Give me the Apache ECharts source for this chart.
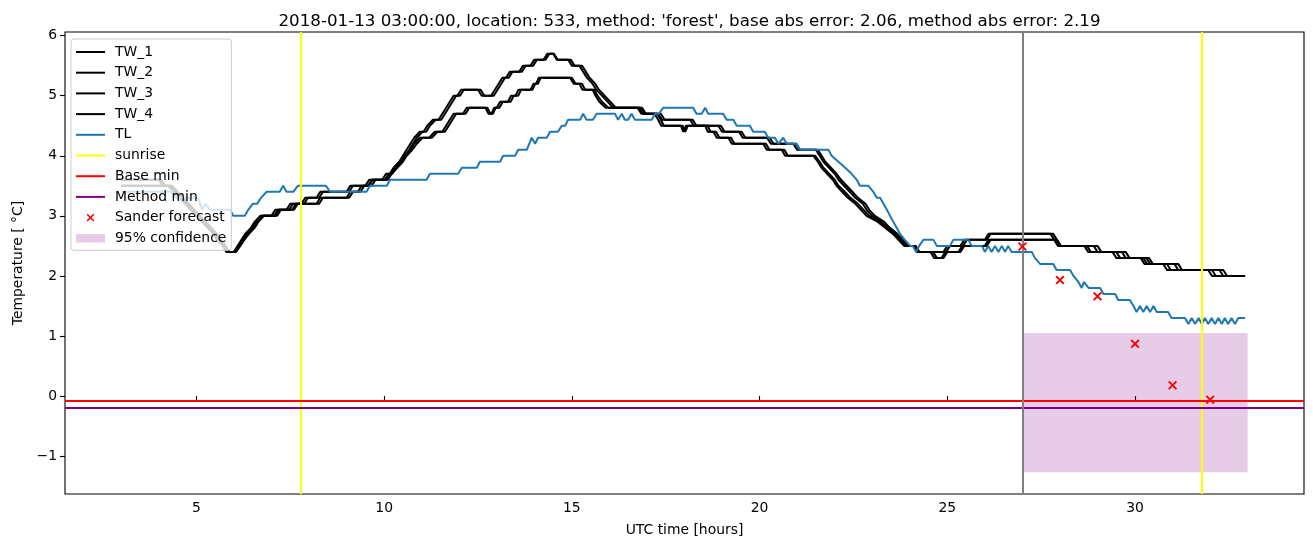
<!DOCTYPE html>
<html><head><meta charset="utf-8">
<script src="https://cdn.jsdelivr.net/npm/echarts@6/dist/echarts.min.js"></script>
<style>html,body{margin:0;padding:0;background:#fff}#c{width:1313px;height:547px}</style>
</head><body><div id="c"></div><script>
// ---- data (hours UTC, temperature °C) ----
const titleText = "2018-01-13 03:00:00, location: 533, method: 'forest', base abs error: 2.06, method abs error: 2.19";
const xTicks = [5, 10, 15, 20, 25, 30];
const yTicks = [-1, 0, 1, 2, 3, 4, 5, 6];

const tw1 = [[3.0,3.6],[4.0,3.6],[4.1,3.5],[4.25,3.5],[4.4,3.4],[4.55,3.3],[4.7,3.2],[4.85,3.1],[5.0,3.0],[5.15,2.9],[5.3,2.8],[5.45,2.7],[5.55,2.6],[5.7,2.5],[5.8,2.4],[6.0,2.4],[6.1,2.5],[6.2,2.6],[6.3,2.7],[6.45,2.8],[6.55,2.9],[6.7,3.0],[7.0,3.0],[7.1,3.1],[7.4,3.1],[7.5,3.2],[7.8,3.2],[7.9,3.3],[8.2,3.3],[8.3,3.4],[9.0,3.4],[9.1,3.5],[9.5,3.5],[9.6,3.6],[9.95,3.6],[10.05,3.7],[10.15,3.7],[10.25,3.8],[10.4,3.9],[10.5,4.0],[10.6,4.1],[10.7,4.2],[10.8,4.3],[10.95,4.4],[11.05,4.4],[11.15,4.5],[11.3,4.6],[11.45,4.6],[11.55,4.7],[11.65,4.8],[11.75,4.9],[11.85,5.0],[11.95,5.0],[12.05,5.1],[12.5,5.1],[12.6,5.0],[12.85,5.0],[12.95,5.1],[13.05,5.2],[13.15,5.3],[13.25,5.3],[13.35,5.4],[13.6,5.4],[13.7,5.5],[13.9,5.5],[14.0,5.6],[14.25,5.6],[14.35,5.7],[14.5,5.7],[14.6,5.6],[14.9,5.6],[15.0,5.5],[15.2,5.5],[15.3,5.4],[15.4,5.3],[15.55,5.2],[15.65,5.1],[15.8,5.0],[15.95,4.9],[16.1,4.8],[16.8,4.8],[16.9,4.7],[17.3,4.7],[17.4,4.6],[18.15,4.6],[18.25,4.5],[18.9,4.5],[19.0,4.4],[19.45,4.4],[19.55,4.3],[20.2,4.3],[20.3,4.2],[20.9,4.2],[21.0,4.1],[21.5,4.1],[21.6,4.0],[21.7,3.9],[21.85,3.8],[22.0,3.7],[22.1,3.6],[22.25,3.5],[22.4,3.4],[22.55,3.3],[22.75,3.2],[22.85,3.1],[23.0,3.0],[23.25,2.9],[23.4,2.8],[23.6,2.7],[23.75,2.6],[23.9,2.5],[24.1,2.5],[24.2,2.4],[24.9,2.4],[25.0,2.5],[25.35,2.5],[25.45,2.6],[26.0,2.6],[26.1,2.7],[27.75,2.7],[27.85,2.6],[27.95,2.5],[28.65,2.5],[28.75,2.4],[29.4,2.4],[29.5,2.3],[30.15,2.3],[30.25,2.2],[30.75,2.2],[30.85,2.1],[31.95,2.1],[32.05,2.0],[32.93,2.0]];

const tw2 = [[3.0,3.6],[4.07,3.6],[4.17,3.5],[4.32,3.5],[4.47,3.4],[4.62,3.3],[4.77,3.2],[4.92,3.1],[5.07,3.0],[5.22,2.9],[5.37,2.8],[5.52,2.7],[5.62,2.6],[5.77,2.5],[5.87,2.4],[6.05,2.4],[6.15,2.5],[6.27,2.6],[6.37,2.7],[6.52,2.8],[6.62,2.9],[6.77,3.0],[7.07,3.0],[7.17,3.1],[7.47,3.1],[7.57,3.2],[7.87,3.2],[7.97,3.3],[8.27,3.3],[8.37,3.4],[9.07,3.4],[9.17,3.5],[9.57,3.5],[9.67,3.6],[10.02,3.6],[10.12,3.7],[10.22,3.7],[10.32,3.8],[10.47,3.9],[10.57,4.0],[10.67,4.1],[10.77,4.2],[10.87,4.3],[11.02,4.4],[11.12,4.4],[11.22,4.5],[11.37,4.6],[11.52,4.6],[11.62,4.7],[11.72,4.8],[11.82,4.9],[11.92,5.0],[12.02,5.0],[12.12,5.1],[12.57,5.1],[12.67,5.0],[12.92,5.0],[13.02,5.1],[13.12,5.2],[13.22,5.3],[13.32,5.3],[13.42,5.4],[13.67,5.4],[13.77,5.5],[13.97,5.5],[14.07,5.6],[14.3,5.6],[14.4,5.7],[14.52,5.7],[14.62,5.6],[14.97,5.6],[15.07,5.5],[15.27,5.5],[15.37,5.4],[15.47,5.3],[15.62,5.2],[15.72,5.1],[15.87,5.0],[16.02,4.9],[16.17,4.8],[16.87,4.8],[16.97,4.7],[17.37,4.7],[17.47,4.6],[18.22,4.6],[18.32,4.5],[18.97,4.5],[19.07,4.4],[19.52,4.4],[19.62,4.3],[20.27,4.3],[20.37,4.2],[20.97,4.2],[21.07,4.1],[21.55,4.1],[21.65,4.0],[21.75,3.9],[21.9,3.8],[22.05,3.7],[22.17,3.6],[22.32,3.5],[22.47,3.4],[22.62,3.3],[22.82,3.2],[22.92,3.1],[23.07,3.0],[23.32,2.9],[23.47,2.8],[23.67,2.7],[23.82,2.6],[23.97,2.5],[24.15,2.5],[24.25,2.4],[24.97,2.4],[25.07,2.5],[25.42,2.5],[25.52,2.6],[26.05,2.6],[26.15,2.7],[27.82,2.7],[27.92,2.6],[28.02,2.5],[28.72,2.5],[28.82,2.4],[29.5,2.4],[29.6,2.3],[30.22,2.3],[30.32,2.2],[30.85,2.2],[30.95,2.1],[32.05,2.1],[32.15,2.0],[32.93,2.0]];

const tw3 = [[3.0,3.5],[4.3,3.5],[4.45,3.4],[4.6,3.3],[4.75,3.2],[4.9,3.1],[5.05,3.0],[5.2,2.9],[5.35,2.8],[5.5,2.7],[5.6,2.6],[5.72,2.5],[5.82,2.4],[6.0,2.4],[6.12,2.5],[6.22,2.6],[6.35,2.7],[6.5,2.8],[6.6,2.9],[6.75,3.0],[7.1,3.0],[7.2,3.1],[7.55,3.1],[7.65,3.2],[8.2,3.2],[8.3,3.3],[9.0,3.3],[9.1,3.4],[9.3,3.4],[9.4,3.5],[9.6,3.5],[9.7,3.6],[10.05,3.6],[10.15,3.7],[10.3,3.8],[10.45,3.9],[10.55,4.0],[10.7,4.1],[10.8,4.2],[10.95,4.3],[11.2,4.3],[11.35,4.4],[11.55,4.4],[11.65,4.5],[11.75,4.6],[11.85,4.7],[12.1,4.7],[12.2,4.8],[12.7,4.8],[12.78,4.7],[12.86,4.7],[12.93,4.8],[13.0,4.8],[13.09,4.9],[13.3,4.9],[13.38,5.0],[13.5,5.0],[13.58,5.1],[13.9,5.1],[13.98,5.2],[14.05,5.2],[14.12,5.3],[14.95,5.3],[15.05,5.2],[15.2,5.2],[15.28,5.1],[15.55,5.1],[15.63,5.0],[15.73,4.9],[15.9,4.8],[16.75,4.8],[16.85,4.7],[17.2,4.7],[17.3,4.6],[17.38,4.5],[17.9,4.5],[17.97,4.4],[18.04,4.5],[18.55,4.5],[18.62,4.4],[18.77,4.4],[18.86,4.3],[19.17,4.3],[19.26,4.2],[20.1,4.2],[20.19,4.1],[20.59,4.1],[20.68,4.0],[21.43,4.0],[21.55,3.9],[21.65,3.8],[21.8,3.7],[21.95,3.6],[22.05,3.5],[22.2,3.4],[22.35,3.3],[22.55,3.2],[22.7,3.1],[22.85,3.0],[23.15,2.9],[23.35,2.8],[23.55,2.7],[23.7,2.6],[23.85,2.5],[24.1,2.5],[24.2,2.4],[24.55,2.4],[24.65,2.3],[24.85,2.3],[24.95,2.4],[25.3,2.4],[25.4,2.5],[26.0,2.5],[26.1,2.6],[27.85,2.6],[27.95,2.5],[28.9,2.5],[29.0,2.4],[29.65,2.4],[29.75,2.3],[30.3,2.3],[30.4,2.2],[31.05,2.2],[31.15,2.1],[32.25,2.1],[32.35,2.0],[32.93,2.0]];

const tw4 = [[3.0,3.5],[4.35,3.5],[4.5,3.4],[4.65,3.3],[4.8,3.2],[4.95,3.1],[5.1,3.0],[5.25,2.9],[5.4,2.8],[5.55,2.7],[5.65,2.6],[5.77,2.5],[5.87,2.4],[6.05,2.4],[6.17,2.5],[6.27,2.6],[6.4,2.7],[6.55,2.8],[6.65,2.9],[6.8,3.0],[7.15,3.0],[7.25,3.1],[7.6,3.1],[7.7,3.2],[8.27,3.2],[8.37,3.3],[9.07,3.3],[9.17,3.4],[9.37,3.4],[9.47,3.5],[9.67,3.5],[9.77,3.6],[10.1,3.6],[10.2,3.7],[10.35,3.8],[10.5,3.9],[10.6,4.0],[10.75,4.1],[10.87,4.2],[11.02,4.3],[11.27,4.3],[11.42,4.4],[11.62,4.4],[11.72,4.5],[11.82,4.6],[11.92,4.7],[12.17,4.7],[12.27,4.8],[12.75,4.8],[12.83,4.7],[12.9,4.7],[12.97,4.8],[13.07,4.8],[13.16,4.9],[13.37,4.9],[13.45,5.0],[13.57,5.0],[13.65,5.1],[13.95,5.1],[14.03,5.2],[14.1,5.2],[14.17,5.3],[15.0,5.3],[15.1,5.2],[15.27,5.2],[15.35,5.1],[15.6,5.1],[15.68,5.0],[15.8,4.9],[15.97,4.8],[16.82,4.8],[16.92,4.7],[17.27,4.7],[17.37,4.6],[17.45,4.5],[17.95,4.5],[18.02,4.4],[18.09,4.5],[18.62,4.5],[18.69,4.4],[18.84,4.4],[18.93,4.3],[19.24,4.3],[19.33,4.2],[20.17,4.2],[20.26,4.1],[20.66,4.1],[20.75,4.0],[21.48,4.0],[21.6,3.9],[21.7,3.8],[21.85,3.7],[22.0,3.6],[22.1,3.5],[22.27,3.4],[22.42,3.3],[22.62,3.2],[22.77,3.1],[22.92,3.0],[23.22,2.9],[23.42,2.8],[23.62,2.7],[23.77,2.6],[23.92,2.5],[24.15,2.5],[24.25,2.4],[24.62,2.4],[24.72,2.3],[24.9,2.3],[25.0,2.4],[25.35,2.4],[25.45,2.5],[26.05,2.5],[26.15,2.6],[27.92,2.6],[28.02,2.5],[29.0,2.5],[29.1,2.4],[29.75,2.4],[29.85,2.3],[30.37,2.3],[30.47,2.2],[31.15,2.2],[31.25,2.1],[32.35,2.1],[32.45,2.0],[32.93,2.0]];

const tl = [[3.0,3.4],[4.35,3.4],[4.45,3.3],[5.05,3.3],[5.15,3.1],[5.25,3.2],[5.35,3.1],[5.9,3.1],[5.98,3.0],[6.29,3.0],[6.38,3.1],[6.5,3.2],[6.62,3.2],[6.72,3.3],[6.87,3.4],[7.22,3.4],[7.31,3.5],[7.4,3.4],[7.58,3.4],[7.7,3.5],[8.45,3.5],[8.56,3.4],[9.53,3.4],[9.62,3.5],[10.07,3.5],[10.16,3.6],[11.13,3.6],[11.22,3.7],[11.97,3.7],[12.07,3.8],[12.47,3.8],[12.55,3.9],[13.09,3.9],[13.17,4.0],[13.49,4.0],[13.57,4.1],[13.8,4.1],[13.93,4.3],[14.02,4.2],[14.1,4.3],[14.33,4.3],[14.42,4.4],[14.63,4.4],[14.73,4.5],[14.82,4.5],[14.9,4.6],[15.22,4.6],[15.3,4.7],[15.39,4.6],[15.56,4.6],[15.66,4.7],[16.15,4.7],[16.23,4.6],[16.33,4.7],[16.41,4.6],[16.5,4.6],[16.59,4.7],[16.68,4.6],[17.13,4.6],[17.21,4.7],[17.32,4.7],[17.43,4.8],[18.23,4.8],[18.32,4.7],[18.46,4.7],[18.55,4.8],[18.63,4.7],[19.03,4.7],[19.12,4.6],[19.3,4.6],[19.39,4.5],[19.74,4.5],[19.83,4.4],[20.14,4.4],[20.23,4.3],[20.41,4.3],[20.5,4.2],[20.63,4.3],[20.72,4.2],[20.99,4.2],[21.08,4.1],[21.83,4.1],[21.92,4.0],[22.1,3.9],[22.28,3.8],[22.45,3.7],[22.59,3.6],[22.67,3.5],[22.9,3.5],[23.03,3.4],[23.12,3.3],[23.21,3.3],[23.39,3.1],[23.56,2.9],[23.74,2.7],[23.87,2.6],[24.01,2.5],[24.08,2.5],[24.17,2.4],[24.25,2.5],[24.36,2.6],[24.63,2.6],[24.72,2.5],[25.07,2.5],[25.16,2.6],[25.56,2.6],[25.65,2.5],[25.92,2.5],[26.0,2.4],[26.09,2.5],[26.18,2.4],[26.27,2.5],[26.36,2.4],[26.45,2.5],[26.54,2.4],[26.62,2.5],[26.71,2.4],[27.25,2.4],[27.33,2.3],[27.47,2.2],[27.82,2.2],[27.91,2.1],[28.27,2.1],[28.36,2.0],[28.49,1.9],[28.58,1.8],[28.64,1.9],[28.76,1.8],[29.07,1.8],[29.16,1.7],[29.47,1.7],[29.55,1.6],[29.86,1.6],[29.96,1.5],[30.04,1.4],[30.13,1.5],[30.22,1.4],[30.31,1.5],[30.4,1.4],[30.49,1.5],[30.58,1.4],[30.88,1.4],[30.97,1.3],[31.33,1.3],[31.42,1.2],[31.51,1.3],[31.6,1.2],[31.69,1.3],[31.78,1.2],[31.86,1.3],[31.95,1.2],[32.04,1.3],[32.13,1.2],[32.22,1.3],[32.31,1.2],[32.39,1.3],[32.48,1.2],[32.57,1.3],[32.66,1.2],[32.75,1.3],[32.93,1.3]];

const sunriseTimes = [7.77, 31.78];
const forecastTime = 27;
const baseMin = -0.07;
const methodMin = -0.19;
const sanderTimes = [27, 28, 29, 30, 31, 32];
const sanderValues = [2.49, 1.93, 1.66, 0.87, 0.18, -0.06];
const confTimes = [27, 33];
const confRange = [-1.27, 1.05];

// ---- chart ----
const FONT = 'DejaVu Sans';
const chart = echarts.init(document.getElementById('c'), null, {renderer: 'canvas'});
const xPath = 'path://M0,1.5L1.5,0L5,3.5L8.5,0L10,1.5L6.5,5L10,8.5L8.5,10L5,6.5L1.5,10L0,8.5L3.5,5Z';
const xLegendPath = 'path://M0,0M29,14M10.6,4.2L11.7,3.1L14.5,5.9L17.3,3.1L18.4,4.2L15.6,7L18.4,9.8L17.3,10.9L14.5,8.1L11.7,10.9L10.6,9.8L13.4,7Z';
const rectLegendPath = 'path://M0,0M29,14M0,2.8L29,2.8L29,11.2L0,11.2Z';
const lineLegendPath = 'path://M0,0M29,14M0,6L29,6L29,8L0,8Z';

function lineSeries(name, data, color) {
  return {name, type: 'line', data, color, symbol: 'none', showSymbol: false,
    lineStyle: {color, width: 2}, silent: true, animation: false, z: 3};
}
function vlineSeries(name, xs, color) {
  return {name, type: 'line', data: [], color, symbol: 'none', lineStyle: {color, width: 2},
    silent: true, animation: false,
    markLine: {silent: true, symbol: ['none', 'none'], animation: false, label: {show: false},
      lineStyle: {color, width: 2, type: 'solid'}, emphasis: {disabled: true},
      data: xs.map(v => ({xAxis: v})), z: 4}};
}
function hlineSeries(name, y, color) {
  return {name, type: 'line', data: [], color, symbol: 'none', lineStyle: {color, width: 2},
    silent: true, animation: false,
    markLine: {silent: true, symbol: ['none', 'none'], animation: false, label: {show: false},
      lineStyle: {color, width: 2, type: 'solid'}, emphasis: {disabled: true},
      data: [{yAxis: y}], z: 4}};
}
const confColor = 'rgba(128,0,128,0.2)';
const lineItem = (name, color) => ({name, icon: lineLegendPath, itemStyle: {color}});

const option = {
  animation: false,
  backgroundColor: '#fff',
  title: {text: titleText, left: 684.5, top: 8, textAlign: 'center',
    textStyle: {fontFamily: FONT, fontSize: 16.7, fontWeight: 'normal', color: '#000'}},
  grid: {left: 65, right: 9, top: 32, bottom: 53, show: true, borderColor: '#000', borderWidth: 1.1, backgroundColor: 'transparent'},
  legend: {
    orient: 'vertical', left: 71, top: 39, selectedMode: false,
    backgroundColor: 'rgba(255,255,255,0.8)', borderColor: '#cccccc', borderWidth: 1, borderRadius: 3,
    padding: [6, 5, 5, 5], itemGap: 6.7, itemWidth: 29, itemHeight: 14,
    textStyle: {fontFamily: FONT, fontSize: 13.9, color: '#000', padding: [0, 0, 0, 5]},
    data: [lineItem('TW_1', '#000'), lineItem('TW_2', '#000'), lineItem('TW_3', '#000'), lineItem('TW_4', '#000'),
      lineItem('TL', '#1f77b4'), lineItem('sunrise', '#ffff00'), lineItem('Base min', '#ff0000'),
      lineItem('Method min', '#800080'),
      {name: 'Sander forecast', icon: xLegendPath, itemStyle: {color: 'red'}},
      {name: '95% confidence', icon: rectLegendPath, itemStyle: {color: confColor}}]
  },
  xAxis: {type: 'value', min: 1.5, max: 34.5, splitLine: {show: false}, axisLine: {show: false},
    axisTick: {show: true, length: 5, lineStyle: {color: '#000', width: 1.1}, customValues: xTicks},
    axisLabel: {customValues: xTicks, color: '#000', fontFamily: FONT, fontSize: 13.9, margin: 7},
    name: 'UTC time [hours]', nameLocation: 'middle', nameGap: 29,
    nameTextStyle: {fontFamily: FONT, fontSize: 13.9, color: '#000'}},
  yAxis: {type: 'value', min: -1.63, max: 6.06, splitLine: {show: false}, axisLine: {show: false},
    axisTick: {show: true, length: 5, lineStyle: {color: '#000', width: 1.1}, customValues: yTicks},
    axisLabel: {customValues: yTicks, color: '#000', fontFamily: FONT, fontSize: 13.9, margin: 8,
      formatter: v => (v < 0 ? '\u2212' + Math.abs(v) : String(v))},
    name: 'Temperature [ \u00b0C]', nameLocation: 'middle', nameGap: 40,
    nameTextStyle: {fontFamily: FONT, fontSize: 13.9, color: '#000'}},
  series: [
    {name: '95% confidence', type: 'line', data: [], color: confColor, symbol: 'none', silent: true,
      markArea: {silent: true, itemStyle: {color: confColor}, emphasis: {disabled: true}, label: {show: false},
        data: [[{xAxis: confTimes[0], yAxis: confRange[1]}, {xAxis: confTimes[1], yAxis: confRange[0]}]]}},
    lineSeries('TW_1', tw1, '#000'),
    lineSeries('TW_2', tw2, '#000'),
    lineSeries('TW_3', tw3, '#000'),
    lineSeries('TW_4', tw4, '#000'),
    lineSeries('TL', tl, '#1f77b4'),
    vlineSeries('sunrise', sunriseTimes, '#ffff00'),
    hlineSeries('Base min', baseMin, '#ff0000'),
    hlineSeries('Method min', methodMin, '#800080'),
    vlineSeries('forecast', [forecastTime], '#808080'),
    {name: 'Sander forecast', type: 'scatter', data: sanderTimes.map((t, i) => [t, sanderValues[i]]),
      symbol: xPath, symbolSize: 9, itemStyle: {color: '#ff0000', opacity: 1}, silent: true, z: 5}
  ]
};
chart.setOption(option);
</script></body></html>
